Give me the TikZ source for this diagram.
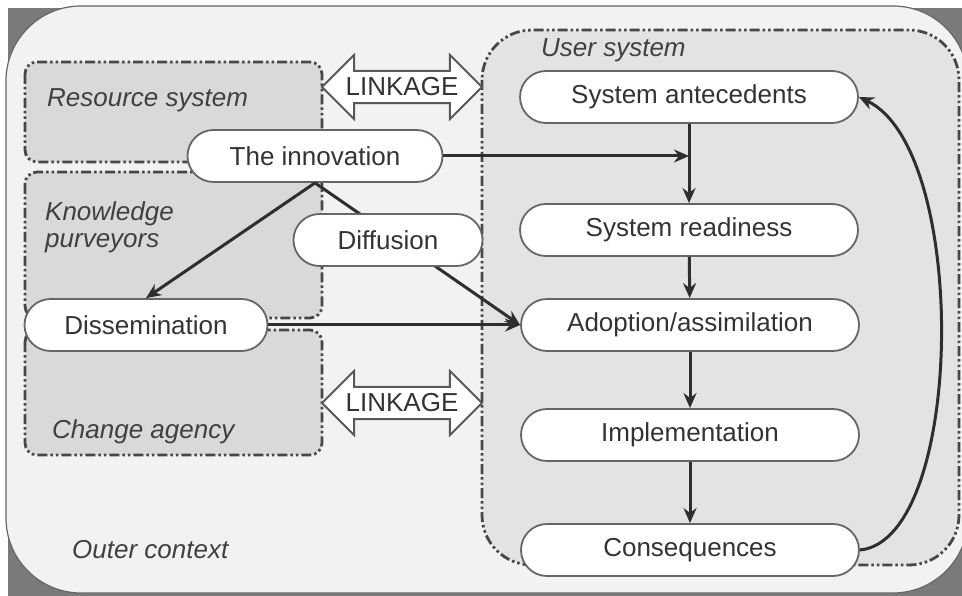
\documentclass[tikz,border=0pt]{standalone}
\usepackage{fontspec}
\setmainfont{Liberation Sans}
\usetikzlibrary{shapes.arrows,arrows.meta}

\newcommand{\diagfont}{\fontsize{26}{27}\selectfont}

\tikzset{
  stage/.style={draw=black!60, line width=1.8pt, fill=white, rounded corners=26pt,
    minimum width=338pt, minimum height=52pt, text=black!80, font=\diagfont},
  agent/.style={draw=black!72, line width=2.8pt, rounded corners=12pt, fill=black!15,
    dash pattern=on 10pt off 3pt on 2.5pt off 3pt on 2.5pt off 3pt},
  boxlabel/.style={font=\diagfont\itshape, text=black!75, anchor=west, inner sep=0pt},
  link/.style={double arrow, draw=black!65, line width=1.8pt, fill=white, text=black!80,
    font=\diagfont, minimum height=160pt, double arrow head extend=16pt, inner ysep=6pt, inner xsep=2pt},
  flow/.style={draw=black!82, line width=3pt, -{Stealth[length=15pt,width=13pt]}}
}

\begin{document}
\begin{tikzpicture}[x=1pt,y=-1pt]
  \useasboundingbox (0,0) rectangle (962,596);
  % outer context
  \fill[white] (0,0) rectangle (962,596);
  \fill[black!52] (8,8) rectangle (962,596);
  \filldraw[fill=black!5, draw=black!60, line width=1.2pt, rounded corners=75pt] (6,6) rectangle (968,593);
  \node[boxlabel] (outer) at (72,550) {Outer context};

  % agencies on the left
  \draw[agent] (25,62) rectangle (322,162);
  \draw[agent] (25,172) rectangle (322,318);
  \draw[agent] (25,330) rectangle (322,455);
  \node[boxlabel] (res) at (47,100) {Resource system};
  \node[boxlabel, align=left] (know) at (45,227) {Knowledge\\purveyors};
  \node[boxlabel] (chg) at (52,432) {Change agency};

  % user system
  \draw[agent, fill=black!11, rounded corners=50pt] (482,30) rectangle (959,565);
  \node[boxlabel] (user) at (541,50) {User system};

  \node[link] (link1) at (402,87) {LINKAGE};
  \node[link] (link2) at (402,403) {LINKAGE};

  % stages
  \node[stage] (ante) at (689,97) {System antecedents};
  \node[stage] (ready) at (689,230) {System readiness};
  \node[stage] (adopt) at (690,325) {Adoption/assimilation};
  \node[stage] (impl) at (690,435) {Implementation};
  \node[stage] (cons) at (690,550) {Consequences};

  \node[stage, minimum width=255pt] (inno) at (315,156) {The innovation};
  \node[stage, minimum width=243pt] (diss) at (146,325) {Dissemination};
  \coordinate (join) at (ante.south |- inno.east);

  \draw[flow] (inno.east) -- (join);
  \draw[flow] (ante) -- (ready);
  \draw[flow] (ready) -- (adopt);
  \draw[flow] (adopt) -- (impl);
  \draw[flow] (impl) -- (cons);
  \draw[flow] (cons.east) .. controls (965,540) and (970,150) .. (ante.east);
  \draw[flow] (inno.south) -- (diss.north);
  \draw[flow] (inno.south) -- (adopt.west);
  \draw[flow] (diss.east) -- (adopt.west);

  \node[stage, minimum width=189pt] (diff) at (388,240) {Diffusion};
\end{tikzpicture}
\end{document}
